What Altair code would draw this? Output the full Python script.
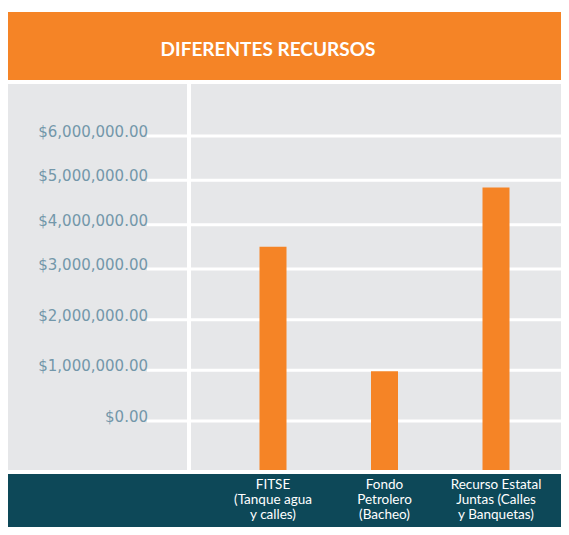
import altair as alt
import pandas as pd

# ---- data ----
categories = ["FITSE\n(Tanque agua\ny calles)", "Fondo\nPetrolero\n(Bacheo)", "Recurso Estatal\nJuntas (Calles\ny Banquetas)"]
cat_keys = ["FITSE", "Fondo Petrolero", "Recurso Estatal"]
values = [3500000, 980000, 4840000]
tick_values = [0, 1000000, 2000000, 3000000, 4000000, 5000000, 6000000]
tick_labels = ["$0.00", "$1,000,000.00", "$2,000,000.00", "$3,000,000.00",
               "$4,000,000.00", "$5,000,000.00", "$6,000,000.00"]
title_text = "DIFERENTES RECURSOS"

ORANGE = "#F58426"
GRAY = "#E6E7E9"
TEAL = "#0D4858"
LABEL = "#7397AA"

W, H = 553, 519

bars_df = pd.DataFrame({"cat": cat_keys, "value": values,
                        "label": [c.split("\n") for c in categories]})
ticks_df = pd.DataFrame({"v": tick_values, "t": tick_labels})

yscale = alt.Scale(domain=[0, 3000000, 6000000], range=[413, 261, 128])
xscale = alt.Scale(type="point", domain=cat_keys, range=[265, 488], padding=0)

one = pd.DataFrame({"a": [0]})
base1 = alt.Chart(one)

header = base1.mark_rect(color=ORANGE).encode(
    x=alt.value(0), x2=alt.value(W), y=alt.value(4), y2=alt.value(72))
title = base1.mark_text(text=title_text, font="Lato", fontWeight="bold", fontSize=19,
                        color="white", align="center", baseline="middle").encode(
    x=alt.value(260), y=alt.value(42))
panel = base1.mark_rect(color=GRAY).encode(
    x=alt.value(0), x2=alt.value(W), y=alt.value(76), y2=alt.value(462))
footer = base1.mark_rect(color=TEAL).encode(
    x=alt.value(0), x2=alt.value(W), y=alt.value(466), y2=alt.value(H))
vline = base1.mark_rect(color="white").encode(
    x=alt.value(179), x2=alt.value(183), y=alt.value(76), y2=alt.value(462))

grid = alt.Chart(ticks_df).mark_rule(color="white", strokeWidth=3).encode(
    y=alt.Y("v:Q", scale=yscale, axis=None),
    x=alt.value(139), x2=alt.value(W))
tlabels = alt.Chart(ticks_df).mark_text(align="right", baseline="middle", dy=-4,
                                        font="DejaVu Sans", fontSize=15,
                                        color=LABEL).encode(
    y=alt.Y("v:Q", scale=yscale, axis=None),
    x=alt.value(140), text="t:N")

bars = alt.Chart(bars_df).mark_rect(color=ORANGE, width=27).encode(
    x=alt.X("cat:N", scale=xscale, axis=None, sort=cat_keys),
    y=alt.Y("value:Q", scale=yscale, axis=None),
    y2=alt.value(462))
xlabels = alt.Chart(bars_df).mark_text(align="center", baseline="top", lineHeight=15,
                                       font="Lato", fontSize=13.5, color="white").encode(
    x=alt.X("cat:N", scale=xscale, axis=None, sort=cat_keys),
    y=alt.value(470), text="label")

chart = alt.layer(header, title, panel, footer, vline, grid, tlabels, bars, xlabels).properties(
    width=W, height=H, padding=0, autosize=alt.AutoSizeParams(type="none")
).configure_view(stroke=None)

chart.save("out.html", embed_options={"renderer": "svg", "actions": False})
